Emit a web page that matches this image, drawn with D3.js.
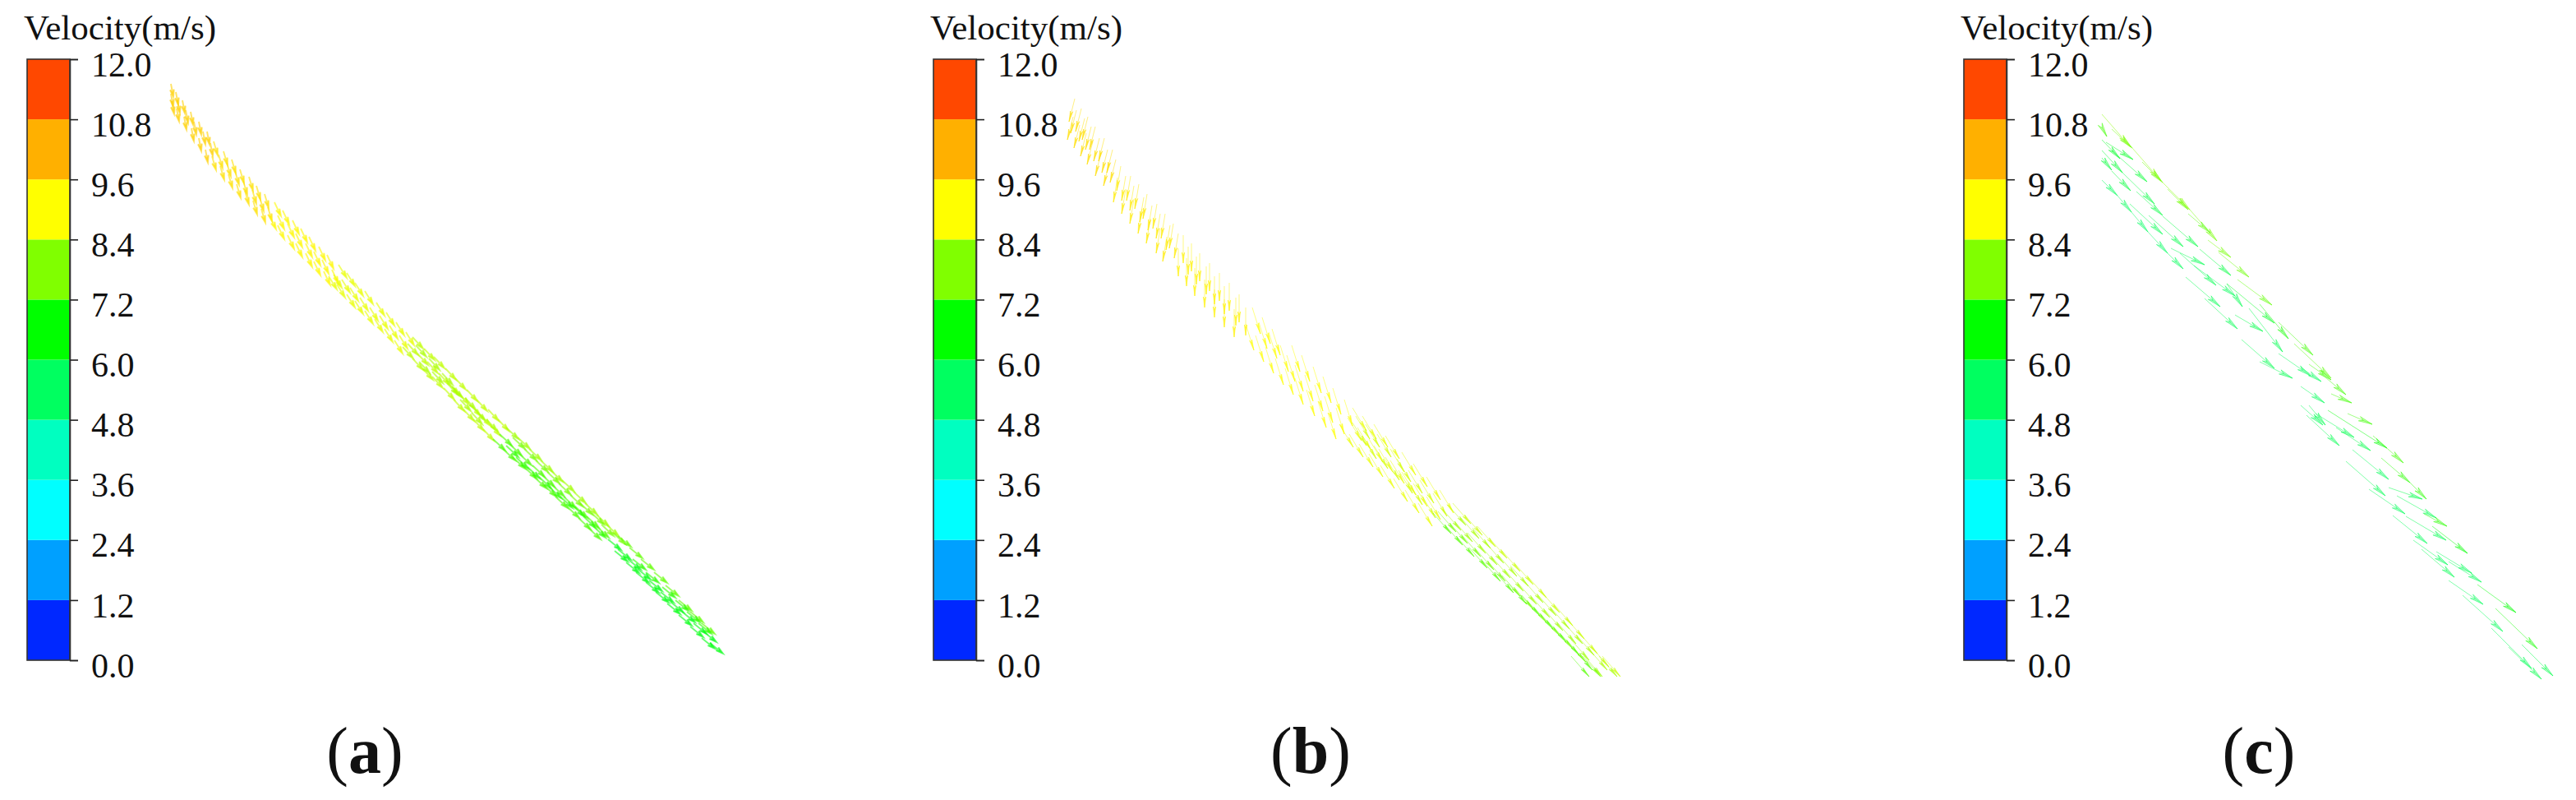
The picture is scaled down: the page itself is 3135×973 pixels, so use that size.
<!DOCTYPE html>
<html>
<head>
<meta charset="utf-8">
<script src="https://cdn.jsdelivr.net/npm/d3@7"></script>
<style>
  html, body { margin: 0; padding: 0; background: #fff; }
  text { font-family: "Liberation Serif", serif; fill: #111; }
</style>
</head>
<body>
<div id="chart"></div>
<script>
// Legend values
var legendTicks = [0.0, 1.2, 2.4, 3.6, 4.8, 6.0, 7.2, 8.4, 9.6, 10.8, 12.0];
var legendColors = ["#0028ff", "#00a0ff", "#00ffff", "#00ffc0", "#00ff60", "#00ff00", "#80ff00", "#ffff00", "#ffb000", "#ff4800"];
var legendTitle = "Velocity(m/s)";
var panelLetters = ["a", "b", "c"];

// Panel (a): groups of vectors, [dx, dy, speed, tails]
var vectorsA = [
  [3, 16, 9.7, [[8,12],[8,24],[9,33],[14,22],[16,32],[15,42],[22,32],[26,44],[24,52],[32,46],[36,58],[33,66],[42,58],[47,70],[42,78],[52,70],[56,84],[50,92]]],
  [5, 17, 9.45, [[60,82],[66,98],[58,100],[72,94],[76,108],[68,112],[82,104],[86,118],[78,122],[92,116],[96,130],[88,134],[103,125],[107,141],[98,142],[112,136],[116,150],[108,154],[122,146],[126,162],[118,164]]],
  [8, 17, 9.1, [[134,156],[138,172],[128,172],[144,166],[150,182],[138,184],[156,178],[160,194],[150,196],[166,188],[172,206],[160,206],[176,198],[182,216],[172,218],[188,210],[192,226],[182,228],[198,220],[204,238],[194,240]]],
  [10, 16, 8.8, [[212,232],[206,244],[200,246],[222,242],[216,250],[210,256],[232,254],[226,260],[222,268],[244,264],[238,272],[232,276],[258,278],[250,284],[244,288],[270,290],[262,294],[256,298],[282,302],[274,306],[268,310],[294,314],[286,318],[280,324]]],
  [13, 14, 8.4, [[302,320],[296,328],[290,332],[316,334],[308,340],[302,346],[328,344],[320,350],[314,358],[342,358],[334,364],[326,368],[354,370],[346,376],[340,382],[368,384],[358,388],[352,396],[380,396],[372,402],[364,408],[394,408],[384,414],[376,420],[406,420],[396,426],[388,432]]],
  [13, 14, 8.2, [[306,330],[322,346],[338,364],[350,380],[366,394],[378,408],[392,420],[310,350],[326,362],[344,376],[360,396],[374,412]]],
  [15, 14, 8.1, [[416,430],[430,442],[444,456],[458,470],[470,482],[484,494],[498,508],[512,522],[526,536],[538,548]]],
  [15, 14, 7.7, [[424,442],[438,456],[452,470],[466,484],[480,498],[494,512],[506,522],[520,534],[532,548],[546,558]]],
  [15, 14, 7.3, [[408,438],[400,444],[420,450],[412,456],[432,462],[424,466],[448,476],[438,478],[460,488],[450,490],[472,500],[462,500],[486,514],[476,514],[500,526],[490,526],[514,538],[504,540],[526,550],[516,552]]],
  [15, 14, 7.0, [[416,452],[428,466],[442,478],[456,490],[468,502],[482,514],[496,524],[510,538],[522,550]]],
  [16, 13, 7.5, [[552,562],[566,576],[580,590],[596,606],[610,622],[626,640],[640,654],[654,668]]],
  [16, 13, 7.0, [[570,590],[586,606],[606,624],[622,640],[636,654],[650,668]]],
  [16, 13, 6.4, [[540,566],[552,578],[564,590],[576,602],[590,616],[604,630],[616,642],[630,654],[644,668],[656,678],[548,580],[562,594],[574,606],[586,618],[598,630],[612,644],[626,658],[640,672],[654,686],[664,692]]]
];

// Panel (b)
var vectorsB = [
  [-7, 28, 9.5, [[8,30],[10,44],[6,52],[16,42],[20,54],[14,62],[24,52],[28,64],[22,72],[33,64],[38,78],[30,82],[44,78],[48,92],[40,96],[54,92],[58,104],[50,108]]],
  [-5, 30, 9.3, [[64,112],[70,124],[60,126],[76,124],[80,136],[70,140],[86,134],[92,150],[80,152],[96,146],[102,160],[90,164],[108,158],[112,170],[100,176],[118,170],[124,184],[112,188],[128,182],[134,194],[120,198]]],
  [0, 34, 9.2, [[140,196],[146,210],[134,212],[150,206],[156,222],[144,224],[160,218],[168,234],[154,236],[172,230],[178,246],[166,250],[184,242],[190,258],[178,262],[196,254],[204,272],[190,274],[208,268],[216,284],[202,286]]],
  [10, 32, 9.0, [[224,284],[232,302],[216,304],[236,296],[244,314],[228,318],[248,310],[258,330],[240,332],[272,330],[266,342],[252,346],[284,342],[276,354],[264,358],[298,356],[288,366],[276,370],[310,368],[300,378],[290,384],[322,382],[312,392],[304,398],[336,396],[326,406],[316,412]]],
  [17, 28, 8.8, [[346,406],[340,418],[330,426],[358,416],[352,430],[342,438],[372,426],[366,444],[354,450],[386,440],[378,456],[366,462],[406,460],[392,470],[380,476],[420,474],[406,484],[396,492],[436,490],[420,498],[410,506],[452,506],[436,514],[426,522]]],
  [17, 28, 8.6, [[350,416],[362,426],[376,438],[392,456],[400,468],[414,482],[428,494],[444,510],[346,424],[358,440],[372,452],[386,466],[402,482],[414,496],[430,512]]],
  [22, 25, 8.5, [[468,522],[482,536],[498,550],[512,564],[528,580],[544,596],[560,612],[576,630],[592,646],[606,662],[622,680],[636,696],[650,708]]],
  [22, 25, 8.2, [[462,524],[478,540],[492,552],[508,570],[524,586],[538,598],[556,618],[572,634],[588,650],[604,668],[618,682],[634,700],[646,708]]],
  [22, 25, 8.1, [[456,530],[470,544],[486,558],[500,572],[516,588],[532,604],[548,620],[564,636],[580,652],[596,668],[612,688],[628,708]]],
  [22, 25, 7.7, [[450,532],[464,546],[480,562],[496,578],[510,592],[528,610],[544,626],[560,642],[576,658],[592,674],[608,690],[626,708]]],
  [22, 25, 7.4, [[444,534],[458,548],[472,562],[488,576],[504,592],[520,606],[536,620],[552,634],[568,650],[584,666],[600,682],[616,700],[612,708]]]
];

// Panel (c): sparse enough to read each arrow, [tail x, tail y, tip x, tip y, speed]
var vectorsC = [
  [8,49,43,89,7.9],[20,67,45,90,7.6],[45,90,80,130,7.9],[57,107,82,132,7.6],[82,132,115,165,7.9],[88,140,113,165,7.6],
  [115,165,148,203,7.7],[113,170,140,193,7.4],[137,202,165,223,7.7],[150,217,187,247,7.6],[173,250,215,281,7.5],
  [8,65,14,76,7.2],[8,80,30,103,6.2],[13,83,46,104,6.2],[8,93,33,120,6.0],[20,93,63,131,6.0],[8,102,20,117,5.9],
  [20,118,43,142,5.9],[30,117,72,158,5.8],[50,143,82,172,5.8],[8,129,27,148,5.5],[27,148,44,168,5.5],[44,168,64,192,5.4],
  [42,158,82,195,5.6],[65,172,107,210,5.7],[64,192,88,218,5.4],[88,218,107,237,5.5],[82,173,125,210,5.8],[92,212,133,232,5.6],
  [103,218,147,257,5.6],[127,213,165,245,5.8],[110,247,152,283,5.6],[120,233,170,270,5.5],[133,273,173,310,5.6],[160,255,179,283,5.6],
  [170,293,204,313,5.7],[178,323,218,358,5.6],[187,285,228,338,5.6],[160,255,218,303,6.2],[200,280,235,322,6.8],[223,302,265,342,7.2],
  [242,328,287,370,7.4],[200,350,240,370,5.6],[223,340,262,367,5.5],
  [260,353,287,372,7.2],[273,363,305,390,7.2],[287,389,312,400,7.2],[307,413,337,426,7.2],[250,357,275,374,5.5],[250,380,279,400,5.5],
  [260,403,280,427,5.6],[268,413,315,442,5.6],[257,415,297,452,5.6],[250,403,277,427,5.5],[283,409,355,455,6.6],[293,430,335,458,5.7],
  [313,457,357,493,5.5],[348,467,383,497,7.0],[338,440,375,473,7.2],[305,471,353,513,5.6],[333,505,377,535,5.5],[357,503,398,517,5.7],
  [383,497,403,517,7.0],[367,513,415,540,5.6],[400,535,428,550,7.0],[362,537,404,571,5.5],[378,538,427,567,5.6],[410,550,453,583,6.6],
  [387,567,429,597,5.5],[397,578,437,612,5.6],[415,581,458,607,5.5],[430,593,470,618,5.5],[465,621,512,655,6.6],[430,616,472,645,5.5],
  [447,634,496,678,5.5],[487,650,538,699,6.8],[482,674,531,723,5.5],[519,694,557,732,5.7],[503,697,543,736,5.7]
];

var width = 3135, height = 973;

// Colour of a vector follows the legend, sampled at the middle of each band
var colorMids = legendColors.map((c, i) => (legendTicks[i] + legendTicks[i + 1]) / 2);
var speedColor = d3.scaleLinear().domain(colorMids).range(legendColors).clamp(true);

var svg = d3.select("#chart")
    .append("svg")
    .attr("width", width)
    .attr("height", height)
    .style("display", "block");

// One vector: shaft, then a narrow swept head at the tip
function arrowPath(x0, y0, x1, y1, headLen, headHalf) {
    var dx = x1 - x0, dy = y1 - y0;
    var len = Math.sqrt(dx * dx + dy * dy);
    var ux = dx / len, uy = dy / len;
    var bx = x1 - ux * headLen, by = y1 - uy * headLen;
    var nx = x1 - ux * headLen * 0.7, ny = y1 - uy * headLen * 0.7;
    return "M" + x0 + "," + y0 + "L" + x1 + "," + y1 +
        "M" + (bx - uy * headHalf) + "," + (by + ux * headHalf) +
        "L" + x1 + "," + y1 +
        "L" + (bx + uy * headHalf) + "," + (by - ux * headHalf) +
        "L" + nx + "," + ny + "Z";
}

function flatten(groups) {
    var rows = [];
    groups.forEach(g => g[3].forEach(p => rows.push([p[0], p[1], p[0] + g[0], p[1] + g[1], g[2]])));
    return rows;
}

var panels = [
    {legendX: 33, fieldX: 200, rows: flatten(vectorsA), headLen: 9, headHalf: 2.4, line: 1.9, opacity: 0.6, fillOpacity: 0.6, labelX: 444},
    {legendX: 1136, fieldX: 1300, rows: flatten(vectorsB), headLen: 13, headHalf: 1.6, line: 0.9, opacity: 0.55, fillOpacity: 0.6, labelX: 1595},
    {legendX: 2390, fieldX: 2550, rows: vectorsC, headLen: 17, headHalf: 2.8, line: 0.9, opacity: 0.55, fillOpacity: 0.3, labelX: 2749}
];

panels.forEach(function(p, idx) {
    // Legend bar
    var barW = 52;
    var y = d3.scaleLinear().domain([0, 12]).range([803, 72]);
    var legend = svg.append("g").attr("transform", "translate(" + p.legendX + ",0)");

    legend.selectAll("rect.band")
        .data(legendColors)
        .enter()
        .append("rect")
        .attr("class", "band")
        .attr("x", 0)
        .attr("width", barW)
        .attr("y", (d, i) => y(legendTicks[i + 1]))
        .attr("height", (d, i) => y(legendTicks[i]) - y(legendTicks[i + 1]))
        .attr("fill", d => d);

    legend.append("rect")
        .attr("x", 0)
        .attr("y", y(12))
        .attr("width", barW)
        .attr("height", y(0) - y(12))
        .attr("fill", "none")
        .attr("stroke", "#333")
        .attr("stroke-width", 1.6);

    var axis = legend.append("g")
        .attr("transform", "translate(" + barW + ",0)")
        .call(d3.axisRight(y).tickValues(legendTicks).tickFormat(d3.format(".1f")).tickSize(10).tickPadding(16));
    axis.select(".domain").attr("stroke", "#333").attr("stroke-width", 1.6);
    axis.selectAll(".tick line").attr("stroke", "#222").attr("stroke-width", 1.6);
    axis.selectAll(".tick text")
        .attr("dy", "0.48em")
        .attr("font-size", "42px")
        .attr("font-family", "Liberation Serif")
        .attr("fill", "#111");

    legend.append("text")
        .attr("x", -4)
        .attr("y", 48)
        .attr("font-size", "43px")
        .text(legendTitle);

    // Vector field
    var fx = d3.scaleLinear().domain([0, 700]).range([p.fieldX, p.fieldX + 700]);
    var fy = d3.scaleLinear().domain([0, 740]).range([90, 830]);
    svg.append("g")
        .selectAll("path")
        .data(p.rows)
        .enter()
        .append("path")
        .attr("d", d => arrowPath(fx(d[0]), fy(d[1]), fx(d[2]), fy(d[3]), p.headLen, p.headHalf))
        .attr("stroke", d => speedColor(d[4]))
        .attr("fill", d => speedColor(d[4]))
        .attr("stroke-width", p.line)
        .attr("stroke-opacity", p.opacity)
        .attr("fill-opacity", p.fillOpacity);

    // Panel letter
    var label = svg.append("text")
        .attr("x", p.labelX)
        .attr("y", 940)
        .attr("text-anchor", "middle")
        .attr("font-size", "80px")
        .attr("fill", "#000");
    label.append("tspan").text("(");
    label.append("tspan").attr("font-weight", "bold").text(panelLetters[idx]);
    label.append("tspan").text(")");
});
</script>
</body>
</html>
